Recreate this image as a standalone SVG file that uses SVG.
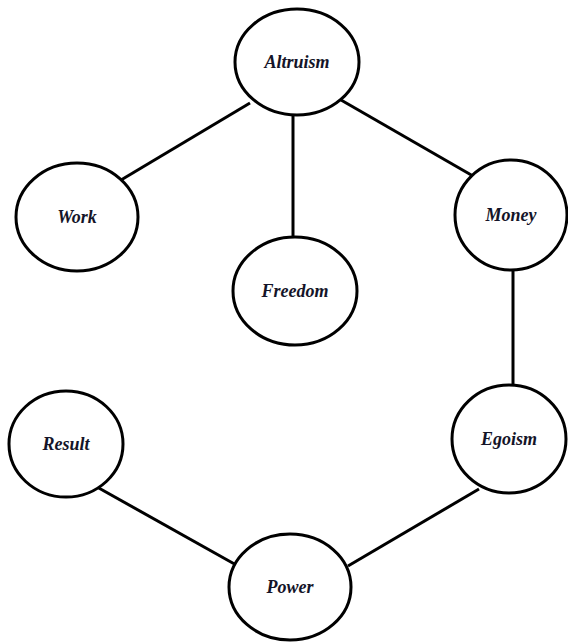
<svg xmlns="http://www.w3.org/2000/svg" width="568" height="644" viewBox="0 0 568 644">
<style>
.n{fill:#fff;stroke:#000;stroke-width:3}
.t{font-family:"Liberation Serif","Times New Roman",serif;font-weight:bold;font-style:italic;font-size:18px;fill:#141428;text-anchor:middle}
.c{stroke:#000;stroke-width:3;fill:none}
</style>
<rect width="568" height="644" fill="#fff"/>
<g id="connectors">
<line class="c" x1="250" y1="103" x2="121" y2="180"/>
<line class="c" x1="293" y1="115" x2="293" y2="237"/>
<line class="c" x1="341" y1="100" x2="473" y2="176"/>
<line class="c" x1="513" y1="270" x2="513" y2="385"/>
<line class="c" x1="97" y1="487" x2="238" y2="566"/>
<line class="c" x1="479" y1="489" x2="348" y2="566"/>
</g>
<g id="altruism"><ellipse class="n" cx="297" cy="62" rx="62" ry="53"/><text class="t" x="297" y="68">Altruism</text></g>
<g id="work"><ellipse class="n" cx="77" cy="217" rx="61" ry="54"/><text class="t" x="77" y="223">Work</text></g>
<g id="freedom"><ellipse class="n" cx="295" cy="291" rx="62" ry="54"/><text class="t" x="295" y="297">Freedom</text></g>
<g id="money"><ellipse class="n" cx="511" cy="215" rx="56" ry="55"/><text class="t" x="511" y="221">Money</text></g>
<g id="egoism"><ellipse class="n" cx="509" cy="439" rx="57" ry="54"/><text class="t" x="509" y="445">Egoism</text></g>
<g id="result"><ellipse class="n" cx="66" cy="444" rx="57" ry="53"/><text class="t" x="66" y="450">Result</text></g>
<g id="power"><ellipse class="n" cx="290" cy="587" rx="61" ry="53"/><text class="t" x="290" y="593">Power</text></g>
</svg>
